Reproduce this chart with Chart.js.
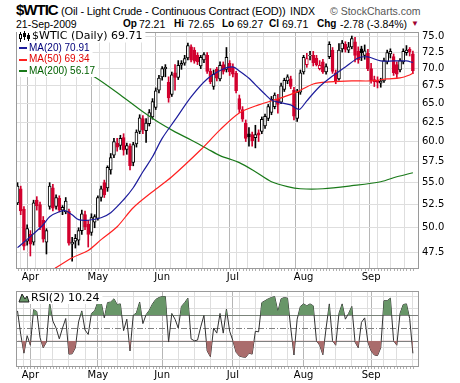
<!DOCTYPE html>
<html>
<head>
<meta charset="utf-8">
<script src="https://cdn.jsdelivr.net/npm/chart.js@4.4.0/dist/chart.umd.min.js"></script>
<style>
body { margin: 0; background: #fff; width: 460px; height: 383px; position: relative; overflow: hidden; font-family: "Liberation Sans", Arial, sans-serif; }
.t { position: absolute; white-space: nowrap; line-height: 1; color: #000; }
.b { font-weight: bold; }
#main { position: absolute; left: 0; top: 0; }
#rsi { position: absolute; left: 0; top: 282px; }
</style>
</head>
<body>
<div class="t b" style="left:16px;top:1.5px;font-size:15px;letter-spacing:-1px">$WTIC</div>
<div class="t" style="left:61px;top:5.5px;font-size:11px;letter-spacing:-0.15px">(Oil - Light Crude - Continuous Contract (EOD))</div>
<div class="t" style="left:290px;top:6px;font-size:10.5px">INDX</div>
<div class="t" style="left:330px;top:6px;font-size:10.5px;color:#555">© StockCharts.com</div>

<div class="t" style="left:16px;top:18.5px;font-size:10.5px">21-Sep-2009</div>
<div class="t b" style="left:123px;top:18.5px;font-size:10px">Op</div>
<div class="t" style="left:139px;top:18.5px;font-size:10.5px">72.21</div>
<div class="t b" style="left:174px;top:18.5px;font-size:10px">Hi</div>
<div class="t" style="left:188px;top:18.5px;font-size:10.5px">72.65</div>
<div class="t b" style="left:222px;top:18.5px;font-size:10px">Lo</div>
<div class="t" style="left:237px;top:18.5px;font-size:10.5px">69.27</div>
<div class="t b" style="left:269px;top:18.5px;font-size:10px">Cl</div>
<div class="t" style="left:282px;top:18.5px;font-size:10.5px">69.71</div>
<div class="t b" style="left:317px;top:18.5px;font-size:10px">Chg</div>
<div class="t" style="left:340px;top:18.5px;font-size:10.5px">-2.78 (-3.84%)</div>
<div class="t" style="left:411px;top:20px;font-size:8px;color:#a00030">▼</div>

<canvas id="main" width="460" height="282"></canvas>
<canvas id="rsi" width="460" height="101"></canvas>

<script>
// trading days shown on the chart
const dates = [
  '2009-03-26','2009-03-27','2009-03-30','2009-03-31',
  '2009-04-01','2009-04-02','2009-04-03','2009-04-06','2009-04-07','2009-04-08','2009-04-09','2009-04-13','2009-04-14','2009-04-15',
  '2009-04-16','2009-04-17','2009-04-20','2009-04-21','2009-04-22','2009-04-23','2009-04-24','2009-04-27','2009-04-28','2009-04-29','2009-04-30',
  '2009-05-01','2009-05-04','2009-05-05','2009-05-06','2009-05-07','2009-05-08','2009-05-11','2009-05-12','2009-05-13','2009-05-14',
  '2009-05-15','2009-05-18','2009-05-19','2009-05-20','2009-05-21','2009-05-22','2009-05-26','2009-05-27','2009-05-28','2009-05-29',
  '2009-06-01','2009-06-02','2009-06-03','2009-06-04','2009-06-05','2009-06-08','2009-06-09','2009-06-10','2009-06-11','2009-06-12','2009-06-15',
  '2009-06-16','2009-06-17','2009-06-18','2009-06-19','2009-06-22','2009-06-23','2009-06-24','2009-06-25','2009-06-26','2009-06-29','2009-06-30',
  '2009-07-01','2009-07-02','2009-07-06','2009-07-07','2009-07-08','2009-07-09','2009-07-10','2009-07-13','2009-07-14','2009-07-15','2009-07-16',
  '2009-07-17','2009-07-20','2009-07-21','2009-07-22','2009-07-23','2009-07-24','2009-07-27','2009-07-28','2009-07-29','2009-07-30','2009-07-31',
  '2009-08-03','2009-08-04','2009-08-05','2009-08-06','2009-08-07','2009-08-10','2009-08-11','2009-08-12','2009-08-13','2009-08-14','2009-08-17',
  '2009-08-18','2009-08-19','2009-08-20','2009-08-21','2009-08-24','2009-08-25','2009-08-26','2009-08-27','2009-08-28','2009-08-31',
  '2009-09-01','2009-09-02','2009-09-03','2009-09-04','2009-09-08','2009-09-09','2009-09-10','2009-09-11','2009-09-14','2009-09-15','2009-09-16',
  '2009-09-17','2009-09-18','2009-09-21'
];

const opens = [52.7,54.3,52.0,48.6,49.3,48.5,53.0,52.5,50.8,48.5,52.3,54.4,52.3,53.2,51.9,51.7,51.8,48.3,48.6,48.7,
  49.7,51.4,50.4,49.5,50.6,51.0,53.3,55.0,54.4,56.5,58.3,59.8,59.5,60.5,59.0,59.4,57.4,59.7,61.3,63.0,
  61.4,62.3,63.2,64.5,66.9,68.8,70.0,68.0,66.3,69.4,68.7,70.5,70.8,71.6,73.3,72.8,72.0,70.4,71.3,72.0,
  69.6,67.4,69.9,68.5,70.6,69.9,70.8,70.2,69.3,65.7,64.2,62.4,61.0,60.9,60.5,61.1,61.3,62.0,63.0,63.8,
  64.6,65.6,65.2,67.0,68.2,68.5,66.9,63.0,66.6,69.5,70.6,71.9,72.0,71.6,70.0,71.0,69.5,71.8,72.8,69.4,
  68.5,73.0,73.7,72.8,73.3,74.1,72.6,73.0,72.0,72.3,70.0,68.4,68.3,67.9,68.2,71.0,72.2,71.8,70.6,69.8,
  71.0,72.4,72.9,72.21];
const highs = [55.0,54.6,52.3,50.3,49.7,53.0,53.4,52.8,51.2,49.9,55.0,54.8,53.6,53.5,52.4,53.3,52.0,49.0,49.3,50.0,
  51.9,51.8,50.8,51.5,51.4,53.5,54.6,55.3,57.0,58.5,60.4,60.4,60.8,61.0,59.8,59.7,59.9,61.5,63.5,63.4,
  63.0,64.2,65.7,67.2,69.0,70.3,70.6,68.8,69.5,70.6,71.2,71.2,72.0,73.9,73.6,73.2,72.4,72.0,72.4,72.4,
  70.0,69.8,70.2,71.0,71.0,73.2,71.2,70.7,69.6,66.2,64.6,62.8,61.8,61.2,62.1,61.5,63.2,63.6,64.9,66.0,
  66.5,66.3,67.9,68.6,69.1,68.9,67.3,67.0,69.8,72.0,72.3,72.6,72.6,72.0,71.2,71.4,70.7,74.1,73.2,69.8,
  73.8,74.3,74.1,74.0,75.0,74.8,73.3,73.4,73.6,72.9,70.8,68.9,68.8,68.6,71.6,72.8,73.0,72.2,71.0,71.5,
  73.0,73.5,73.2,72.65];
const lows = [52.5,51.4,47.7,48.2,47.1,48.2,51.9,49.8,48.5,47.3,52.0,51.8,52.0,51.7,51.4,51.5,48.2,46.6,47.9,48.2,
  49.3,49.8,48.0,49.2,50.0,50.8,52.9,53.3,54.0,56.0,58.0,58.8,59.0,58.3,58.4,56.5,57.0,59.3,61.0,61.0,
  59.9,62.0,62.9,64.2,66.5,68.3,68.8,65.2,66.0,66.9,68.4,69.9,70.5,71.3,71.0,70.8,70.6,70.0,70.9,69.3,
  67.8,67.0,68.2,68.2,69.2,69.5,69.0,68.8,66.5,63.8,62.6,60.0,59.4,59.4,59.2,60.0,61.0,61.7,62.7,63.5,
  64.3,63.7,65.0,66.7,67.8,67.1,62.8,62.6,66.3,69.2,70.2,71.3,70.4,70.4,69.8,69.3,69.2,71.5,69.3,67.8,
  68.3,72.5,72.5,72.4,73.0,71.0,70.8,71.2,71.4,69.7,67.9,67.4,67.2,67.3,68.0,70.7,71.6,69.0,68.7,69.5,
  70.7,72.0,71.9,69.27];
const closes = [54.6,51.8,48.1,49.9,48.3,52.7,52.4,50.1,48.8,49.7,54.6,52.1,53.3,51.9,52.2,52.9,48.4,48.5,48.9,49.7,
  51.5,50.1,49.3,51.1,51.2,53.3,54.3,53.6,56.8,58.0,60.0,59.3,60.4,58.9,59.5,57.0,59.6,61.2,63.1,61.5,
  62.4,63.8,65.3,66.8,68.6,70.0,70.2,65.8,69.1,68.7,70.5,70.8,71.5,73.5,71.3,71.1,71.0,71.7,72.1,69.6,
  68.1,69.2,68.6,70.5,69.6,71.7,69.5,69.2,66.8,64.2,62.9,60.4,60.6,60.1,60.9,60.8,62.9,63.3,64.6,65.6,
  66.2,64.9,67.5,68.3,68.8,67.4,63.3,66.6,69.4,71.7,71.5,72.0,70.9,70.6,70.5,69.5,70.3,73.7,69.6,68.2,
  72.8,73.9,72.9,73.3,74.6,72.0,71.3,72.4,72.7,70.0,68.2,68.1,68.0,68.2,71.2,72.4,72.6,69.4,69.2,71.2,
  72.6,72.8,72.49,69.71];

// moving averages (day index, value)
const ma20Days = [0,4,8,10,13,15,17,19,22,26,29,33,36,39,42,45,49,54,59,64,67,69,72,75,77,79,82,85,87,88,90,94,98,102,106,109,113,117,121,123];
const ma20Values = [47.94,49.07,50.32,51.18,51.72,51.83,51.39,50.86,50.80,51.07,51.61,53.05,54.41,56.28,58.10,60.40,62.80,65.94,68.49,69.95,
  70.25,69.66,68.60,67.20,66.31,65.52,65.11,64.83,64.29,64.29,65.39,67.40,68.92,70.25,71.60,71.75,71.15,71.15,71.15,70.91];
const ma50Days = [10,17,22,26,31,36,42,48,57,63,69,75,82,87,92,97,104,110,115,119,122,123];
const ma50Values = [45.55,46.93,47.66,48.76,50.11,52.16,53.96,55.69,58.96,61.50,63.74,64.83,65.80,66.64,67.77,68.06,68.21,68.21,68.49,68.64,69.07,69.34];
const ma200Days = [21,24,32,39,44,49,54,59,63,69,74,79,84,88,95,104,113,118,123];
const ma200Values = [69.30,68.78,66.21,63.89,62.45,61.24,60.20,59.10,58.24,57.38,56.29,55.11,54.54,54.30,54.30,54.65,55.11,55.69,56.17];

const rsiValues = [77,40,10.5,38,23,79,76,35,19,28, 90,61,50,33,50,65,9,9.5,19,60,
  77,47,40,73,77,91,91,66,90,91, 96,87,88,46,64,14,70,74,91,57,
  71,78,88,95,98,99.5,99.5,28,73,64, 50,84,90,97,33,30,31,52,70,14,
  5,50,42,73,42,80,45,30,12,6, 4.5,4,10.5,9,45,44,90,93,96,98,
  99.5,76,96,98,97,50,7.6,64,84,88, 85,88,85,30,23,8,50,88,30,23,
  73,88,64,73,84,28,19,59,66,28, 14,7.6,6.7,19,93,93,97,30,23,73,
  87,88,65,10.24];

const priceTicks = [47.5,50,52.5,55,57.5,60,62.5,65,67.5,70,72.5,75];
const rsiTicks = [10,30,50,70,90];
const rsiGrid = [0,10,20,30,40,50,60,70,80,90,100];
const monthNames = ['Jan','Feb','Mar','Apr','May','Jun','Jul','Aug','Sep','Oct','Nov','Dec'];

const RED = '#d2002e';
const xMin = -0.47, xMax = 124.9;

// month starts and week starts for the vertical grid
const monthLabelAt = {};
const gridDays = [];
dates.forEach((d, i) => {
  if (i === 0) return;
  const cur = new Date(d + 'T12:00:00'), prev = new Date(dates[i - 1] + 'T12:00:00');
  const newMonth = cur.getMonth() !== prev.getMonth();
  const newWeek = cur.getDay() <= prev.getDay();
  if (newMonth) monthLabelAt[i] = monthNames[cur.getMonth()];
  if (newMonth || newWeek) gridDays.push(i);
});

const candleColor = closes.map((c, i) => (i === 0 || c >= closes[i - 1]) ? '#000' : RED);
const wicks = dates.map((d, i) => ({ x: i, y: [lows[i], highs[i]] }));
const bodies = dates.map((d, i) => ({ x: i, y: [Math.min(opens[i], closes[i]), Math.max(opens[i], closes[i])] }));
const bodyFill = closes.map((c, i) => c < opens[i] ? candleColor[i] : '#fff');

const pts = (days, vals) => days.map((d, i) => ({ x: d, y: vals[i] }));

Chart.defaults.font.family = '"DejaVu Sans", Verdana, sans-serif';
Chart.defaults.font.size = 10;
Chart.defaults.color = '#000';

function xScale(labels) {
  return {
    type: 'linear', min: xMin, max: xMax, offset: false,
    afterBuildTicks: s => { s.ticks = gridDays.map(v => ({ value: v })); },
    ticks: { autoSkip: false, maxRotation: 0, padding: labels.pad, callback: v => monthLabelAt[v] || '' },
    grid: { color: c => monthLabelAt[c.tick && c.tick.value] ? '#b6b6b6' : '#dedede', drawTicks: false },
    border: { display: false },
    afterFit: s => { s.height = labels.h; }
  };
}

const frame = {
  id: 'frame',
  afterDatasetsDraw(chart) {
    const a = chart.chartArea, ctx = chart.ctx;
    ctx.save();
    ctx.strokeStyle = '#9a9a9a';
    ctx.lineWidth = 1;
    ctx.strokeRect(Math.round(a.left) + 0.5, Math.round(a.top) + 0.5, Math.round(a.right - a.left) - 1, Math.round(a.bottom - a.top));
    // daily tick marks under the plot
    ctx.fillStyle = '#b0b0b0';
    const xs = chart.scales.x;
    dates.forEach((d, i) => ctx.fillRect(Math.round(xs.getPixelForValue(i)), Math.round(a.bottom) + 1, 1, 2));
    ctx.restore();
  }
};

const priceLegend = {
  id: 'priceLegend',
  afterDraw(chart) {
    const ctx = chart.ctx, a = chart.chartArea;
    ctx.save();
    ctx.textBaseline = 'middle';
    const rows = [
      { text: '$WTIC (Daily) 69.71', color: '#000', y: 36.5, x: 32, font: '11px "DejaVu Sans"' },
      { text: 'MA(20) 70.91', color: '#00007a', line: '#1c1c9c', y: 48, x: 29, font: '10px "Liberation Sans"' },
      { text: 'MA(50) 69.34', color: '#e00000', line: '#ff2020', y: 59.5, x: 29, font: '10px "Liberation Sans"' },
      { text: 'MA(200) 56.17', color: '#006000', line: '#1a7a1a', y: 71, x: 29, font: '10px "Liberation Sans"' }
    ];
    rows.forEach(r => {
      ctx.font = r.font;
      const w = ctx.measureText(r.text).width;
      ctx.fillStyle = '#fff';
      ctx.fillRect(a.left + 1, r.y - 6, r.x + w + 2 - a.left, 12);
      ctx.fillStyle = r.color;
      ctx.fillText(r.text, r.x, r.y);
      if (r.line) { ctx.fillStyle = r.line; ctx.fillRect(19, Math.round(r.y) - 1, 8, 2); }
    });
    // little candle icon
    ctx.fillStyle = '#000';
    ctx.fillRect(20, 32, 1, 10); ctx.strokeStyle = '#000'; ctx.lineWidth = 1;
    ctx.fillStyle = '#fff'; ctx.fillRect(19, 34, 3, 5); ctx.strokeRect(19.5, 34.5, 2, 4);
    ctx.fillStyle = '#000'; ctx.fillRect(24, 31, 1, 9); ctx.fillRect(23, 33, 3, 4);
    ctx.fillRect(28, 33, 1, 8); ctx.fillRect(27, 35, 3, 4);
    ctx.restore();
  }
};

new Chart(document.getElementById('main'), {
  type: 'bar',
  data: {
    datasets: [
      { type: 'line', data: pts(ma20Days, ma20Values), borderColor: '#1c1c9c', borderWidth: 1.2, pointRadius: 0, tension: 0.3, order: 0 },
      { type: 'line', data: pts(ma50Days, ma50Values), borderColor: '#ff2020', borderWidth: 1.2, pointRadius: 0, tension: 0.3, order: 0 },
      { type: 'line', data: pts(ma200Days, ma200Values), borderColor: '#1a7a1a', borderWidth: 1.2, pointRadius: 0, tension: 0.3, order: 0 },
      { data: bodies, backgroundColor: bodyFill, borderColor: candleColor, borderWidth: 1, borderSkipped: false, barThickness: 3, grouped: false, order: 1 },
      { data: wicks, backgroundColor: candleColor, borderWidth: 0, barThickness: 1, grouped: false, order: 2 }
    ]
  },
  options: {
    responsive: false, animation: false,
    layout: { padding: { left: 16, top: 32, right: 0, bottom: 0 } },
    plugins: { legend: { display: false }, tooltip: { enabled: false } },
    scales: {
      x: xScale({ pad: 3, h: 14 }),
      y: {
        type: 'logarithmic', position: 'right', min: 45.92, max: 75.64,
        afterBuildTicks: s => { s.ticks = priceTicks.map(v => ({ value: v })); },
        afterFit: s => { s.width = 41; },
        ticks: { padding: 3, callback: v => Number(v).toFixed(1) },
        grid: { color: '#dedede', drawTicks: false },
        border: { display: false }
      }
    }
  },
  plugins: [frame, priceLegend]
});

const rsiLines = {
  id: 'rsiLines',
  beforeDatasetsDraw(chart) {
    const ctx = chart.ctx, a = chart.chartArea, ys = chart.scales.y;
    ctx.save();
    ctx.strokeStyle = '#808080';
    ctx.lineWidth = 1;
    [70, 30, 50].forEach(v => {
      const y = Math.round(ys.getPixelForValue(v)) + 0.5;
      ctx.setLineDash(v === 50 ? [6, 2, 1, 2] : []);
      ctx.beginPath(); ctx.moveTo(a.left, y); ctx.lineTo(a.right, y); ctx.stroke();
    });
    ctx.restore();
  },
  afterDraw(chart) {
    const ctx = chart.ctx, a = chart.chartArea;
    ctx.save();
    ctx.font = '11px "DejaVu Sans"';
    ctx.textBaseline = 'middle';
    const text = 'RSI(2) 10.24';
    const w = ctx.measureText(text).width;
    ctx.fillStyle = '#fff';
    ctx.fillRect(a.left + 1, a.top + 1, 31 + w + 2 - a.left, 12);
    ctx.fillStyle = '#000';
    ctx.fillText(text, 31, a.top + 7);
    // mountain icon
    ctx.beginPath();
    ctx.moveTo(19, a.top + 11); ctx.lineTo(22, a.top + 3); ctx.lineTo(25, a.top + 8); ctx.lineTo(27, a.top + 5); ctx.lineTo(29, a.top + 11);
    ctx.closePath();
    ctx.fillStyle = 'rgb(104,150,104)'; ctx.fill();
    ctx.strokeStyle = '#222'; ctx.lineWidth = 1; ctx.stroke();
    ctx.restore();
  }
};

const rsiPts = rsiValues.map((v, i) => ({ x: i, y: v }));
const clear = 'rgba(0,0,0,0)';

new Chart(document.getElementById('rsi'), {
  type: 'line',
  data: {
    datasets: [
      { data: rsiPts, borderColor: clear, borderWidth: 0, pointRadius: 0, fill: { target: { value: 70 }, above: 'rgb(104,150,104)', below: clear } },
      { data: rsiPts, borderColor: clear, borderWidth: 0, pointRadius: 0, fill: { target: { value: 30 }, above: clear, below: 'rgb(170,108,108)' } },
      { data: rsiPts, borderColor: '#303030', borderWidth: 1, pointRadius: 0, fill: false }
    ]
  },
  options: {
    responsive: false, animation: false,
    layout: { padding: { left: 16, top: 2, right: 0, bottom: 0 } },
    plugins: { legend: { display: false }, tooltip: { enabled: false } },
    scales: {
      x: xScale({ pad: 3, h: 17 }),
      y: {
        position: 'right', min: -9.7, max: 108.3,
        afterBuildTicks: s => { s.ticks = rsiGrid.map(v => ({ value: v })); },
        afterFit: s => { s.width = 41; },
        ticks: { padding: 3, callback: v => rsiTicks.includes(v) ? String(v) : '' },
        grid: { color: '#dedede', drawTicks: false },
        border: { display: false }
      }
    }
  },
  plugins: [rsiLines, frame]
});
</script>
</body>
</html>
